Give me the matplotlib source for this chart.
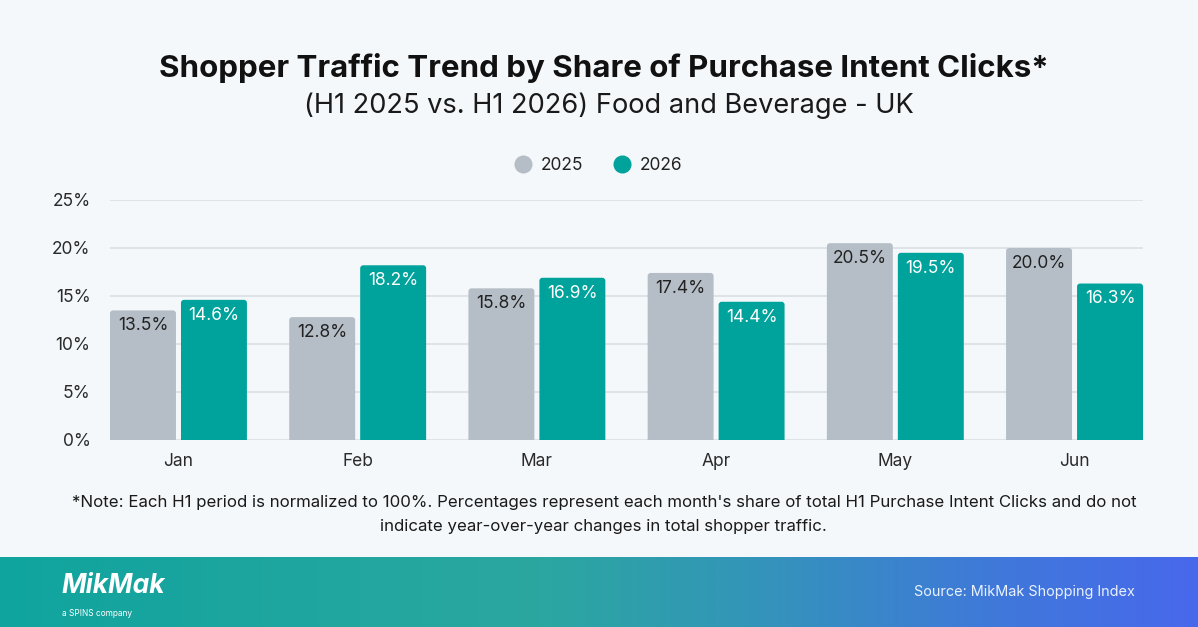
import numpy as np
import matplotlib
matplotlib.use("Agg")
import matplotlib.pyplot as plt
from matplotlib.patches import FancyBboxPatch
from matplotlib.colors import LinearSegmentedColormap
from matplotlib.lines import Line2D

plt.rcParams['font.family'] = ['Inter', 'DejaVu Sans']

months = ["Jan", "Feb", "Mar", "Apr", "May", "Jun"]
series_names = ["2025", "2026"]
values_2025 = [13.5, 12.8, 15.8, 17.4, 20.5, 20.0]
values_2026 = [14.6, 18.2, 16.9, 14.4, 19.5, 16.3]
yticks = [0, 5, 10, 15, 20, 25]

BG = "#F5F8FB"
GRAY = "#B5BEC6"
TEAL = "#00A39B"

fig = plt.figure(figsize=(11.98, 6.27), dpi=100, facecolor=BG)

ax = fig.add_axes([110/1198, 187/627, 1033/1198, 240/627])
ax.set_facecolor(BG)
x = np.arange(len(months))
off = 0.198
w = 0.368
b1 = ax.bar(x - off, values_2025, w, color=GRAY, zorder=3, linewidth=0)
b2 = ax.bar(x + off, values_2026, w, color=TEAL, zorder=3, linewidth=0)

# rounded tops: replace each bar with a rounded box of the same geometry
for bars in (b1, b2):
    for r in bars:
        r.set_visible(False)
        fb = FancyBboxPatch((r.get_x(), -1), r.get_width(), r.get_height() + 1,
                            boxstyle="round,pad=0,rounding_size=0.017",
                            mutation_aspect=18.5, facecolor=r.get_facecolor(),
                            linewidth=0, zorder=3)
        ax.add_patch(fb)

for bars, vals, col in [(b1, values_2025, "#222222"), (b2, values_2026, "white")]:
    for r, v in zip(bars, vals):
        ax.annotate(f"{v:.1f}%", (r.get_x() + r.get_width()/2, v),
                    xytext=(0, -5), textcoords="offset points",
                    ha="center", va="top", fontsize=12.5, color=col, zorder=4)

ax.set_xlim(-0.382, 5.382)
ax.set_ylim(0, 25)
ax.set_yticks(yticks)
ax.set_yticklabels([f"{t}%" for t in yticks], fontsize=12.5, color="#2a2a2a")
ax.set_xticks(x)
ax.set_xticklabels(months, fontsize=12.5, color="#2a2a2a")
ax.tick_params(length=0, axis='y', pad=14)
ax.tick_params(length=0, axis='x', pad=9)
ax.grid(axis='y', color="#DCE1E6", linewidth=1.3, zorder=0)
for s in ax.spines.values():
    s.set_visible(False)

fig.text(604/1198, 1 - 68/627, "Shopper Traffic Trend by Share of Purchase Intent Clicks*",
         ha="center", va="center", fontsize=22.5, fontweight="bold", color="#111111")
fig.text(609/1198, 1 - 106/627, "(H1 2025 vs. H1 2026) Food and Beverage - UK",
         ha="center", va="center", fontsize=19.6, color="#1a1a1a")

handles = [Line2D([], [], marker='o', linestyle='', markersize=13, color=GRAY, markeredgewidth=0),
           Line2D([], [], marker='o', linestyle='', markersize=13, color=TEAL, markeredgewidth=0)]
fig.legend(handles, series_names, loc="center", bbox_to_anchor=(594/1198, 1 - 166/627),
           ncol=2, frameon=False, fontsize=12.5, handletextpad=0.05, columnspacing=1.2,
           labelcolor="#222222")

fig.text(604/1198, 1 - 502/627,
         "*Note: Each H1 period is normalized to 100%. Percentages represent each month's share of total H1 Purchase Intent Clicks and do not",
         ha="center", va="center", fontsize=12.15, color="#1a1a1a")
fig.text(603/1198, 1 - 526/627,
         "indicate year-over-year changes in total shopper traffic.",
         ha="center", va="center", fontsize=12.15, color="#1a1a1a")

# Footer gradient
fax = fig.add_axes([0, 0, 1, 70/627])
cmap = LinearSegmentedColormap.from_list("footer", [
    (0.0, "#10A49E"), (0.45, "#2BA7A0"), (0.62, "#3396B8"),
    (0.82, "#3F7AD8"), (1.0, "#4868EC")])
grad = np.linspace(0, 1, 512)[None, :]
fax.imshow(grad, cmap=cmap, aspect="auto", extent=[0, 1, 0, 1])
fax.set_xlim(0, 1); fax.set_ylim(0, 1)
fax.axis("off")
fax.text(61/1198, 0.58, "MikMak", fontsize=19, fontweight="bold", style="italic",
         color="white", ha="left", va="center", fontstretch="condensed")
fax.text(62/1198, 0.2, "a SPINS company", fontsize=6, color="white", ha="left", va="center")
fax.text(1135/1198, 0.5, "Source: MikMak Shopping Index", fontsize=10.4, color="#EAF2FF",
         ha="right", va="center")

fig.savefig("out.png", dpi=100, facecolor=BG)
